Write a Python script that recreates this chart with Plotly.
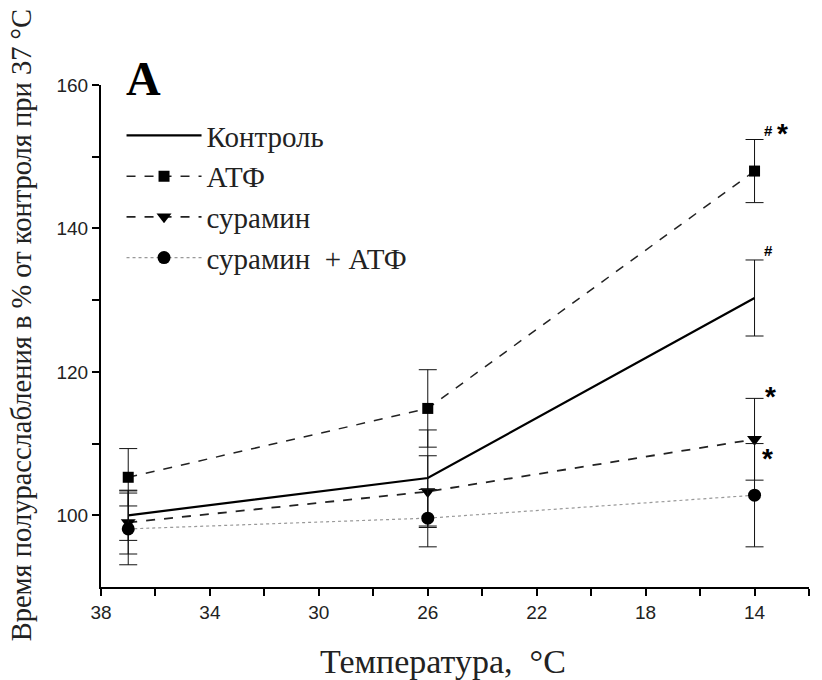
import plotly.graph_objects as go

temps = [37, 26, 14]
control = [100.0, 105.2, 130.3]
control_err = [3.5, 6.7, 5.3]
atp = [105.3, 114.9, 148.0]
atp_err = [4.0, 5.4, 4.4]
suramin = [99.0, 103.3, 110.6]
suramin_err = [4.4, 5.0, 5.7]
sur_atp = [98.1, 99.6, 102.8]
sur_atp_err = [5.0, 4.0, 7.2]

names = ["Контроль", "АТФ", "сурамин", "сурамин  + АТФ"]

x_major = [38, 34, 30, 26, 22, 18, 14]
x_minor = [36, 32, 28, 24, 20, 16, 12]
y_major = [100, 120, 140, 160]
y_minor = [110, 130, 150]

# significance marks: (x, y, text)
marks = [
    (14, 152.4, "#"),
    (14, 152.4, "*"),
    (14, 135.7, "#"),
    (14, 116.3, "*"),
    (14, 108.0, "*"),
]
mark_shift = [(14, 9), (28, 6), (14, 9), (16, 2), (13, -1)]

x_title = "Температура,  °C"
y_title = "Время полурасслабления в % от контроля при 37 °C"

fig = go.Figure()

def add(y, err, name, dash, width, color, symbol, msize):
    fig.add_trace(go.Scatter(
        x=temps, y=y, name=name, mode="lines+markers" if symbol else "lines",
        line=dict(color=color, width=width, dash=dash),
        marker=dict(symbol=symbol or "circle", size=msize, color="black"),
        error_y=dict(type="data", array=err, visible=True, color="#111",
                     thickness=1, width=9),
    ))

add(control, control_err, names[0], "solid", 2.2, "black", None, 1)
add(atp, atp_err, names[1], "dash", 1.5, "#222", "square", 11)
add(suramin, suramin_err, names[2], "dash", 1.8, "#222", "triangle-down", 13)
add(sur_atp, sur_atp_err, names[3], "dot", 1.2, "#999", "circle", 13)

for (xv, yv, t), (xs, ys) in zip(marks, mark_shift):
    fig.add_annotation(x=xv, y=yv, text="<b>%s</b>" % t, showarrow=False,
                       xshift=xs, yshift=ys,
                       font=dict(family="Liberation Sans",
                                 size=15 if t == "#" else 28, color="black"))

fig.add_annotation(x=0.032, y=1.0, xref="paper", yref="paper", text="<b>A</b>",
                   showarrow=False, xanchor="left", yanchor="top", yshift=35,
                   font=dict(family="Liberation Serif", size=48, color="black"))

fig.add_annotation(x=0.483, y=-0.149, xref="paper", yref="paper", text=x_title,
                   showarrow=False, xanchor="center", yanchor="middle",
                   font=dict(family="Liberation Serif", size=34, color="#222"))
fig.add_annotation(x=-0.111, y=0.522, xref="paper", yref="paper", text=y_title,
                   showarrow=False, xanchor="center", yanchor="middle", textangle=-90,
                   font=dict(family="Liberation Serif", size=28.5, color="#222"))

# ticks: major with labels, minor as unlabeled ticks
x_vals = x_major + x_minor
x_text = [str(v) for v in x_major] + [""] * len(x_minor)
y_vals = y_major + y_minor
y_text = [str(v) for v in y_major] + [""] * len(y_minor)

axis_common = dict(showline=True, linecolor="black", linewidth=2, ticks="outside",
                   tickcolor="black", tickwidth=1.5, ticklen=7, showgrid=False,
                   zeroline=False, mirror=False,
                   tickfont=dict(family="Liberation Sans", size=19, color="#222"))

fig.update_layout(
    width=822, height=680,
    margin=dict(l=101, r=13, t=85, b=93),
    paper_bgcolor="white", plot_bgcolor="white",
    xaxis=dict(range=[38, 12], tickvals=x_vals, ticktext=x_text, **axis_common),
    yaxis=dict(range=[90, 160], tickvals=y_vals, ticktext=y_text, **axis_common),
    showlegend=True,
    legend=dict(x=0.029, y=0.95, xanchor="left", yanchor="top",
                bgcolor="rgba(0,0,0,0)", tracegroupgap=0, itemwidth=75,
                font=dict(family="Liberation Serif", size=29, color="#222")),
)

fig.write_html("out.html")
